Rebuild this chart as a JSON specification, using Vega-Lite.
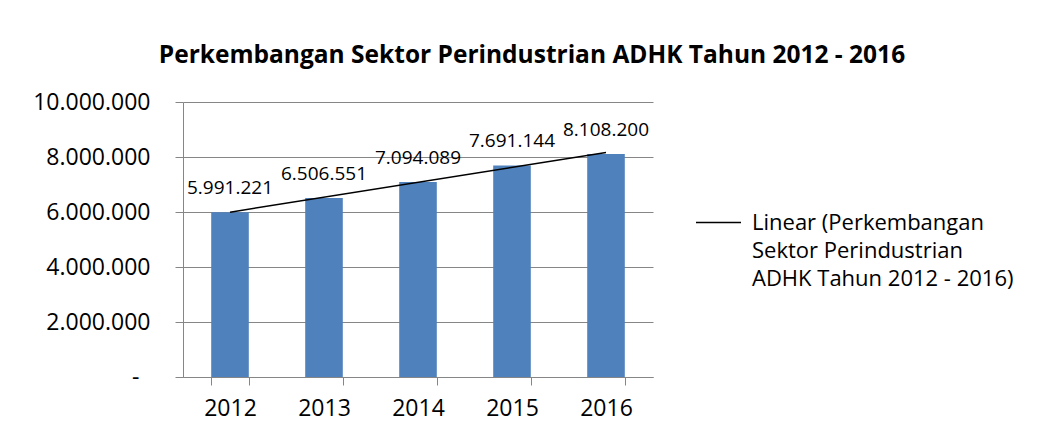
{
  "$schema": "https://vega.github.io/schema/vega-lite/v6.json",
  "width": 470,
  "height": 275,
  "autosize": {"type": "none"},
  "padding": {"left": 183, "top": 102, "right": 392, "bottom": 58},
  "background": "white",
  "config": {
    "font": "Open Sans",
    "view": {"stroke": null},
    "locale": {"number": {"decimal": ",", "thousands": ".", "grouping": [3], "currency": ["Rp", ""]}},
    "axis": {"labelFont": "Open Sans", "labelColor": "#000000"}
  },
  "title": {
    "text": "Perkembangan Sektor Perindustrian ADHK Tahun 2012 - 2016",
    "font": "Open Sans",
    "fontSize": 24.5,
    "fontWeight": "bold",
    "color": "#000000",
    "anchor": "middle",
    "dx": 114,
    "baseline": "alphabetic",
    "offset": 4
  },
  "data": {
    "values": [
      {"year": 2012, "value": 5991221},
      {"year": 2013, "value": 6506551},
      {"year": 2014, "value": 7094089},
      {"year": 2015, "value": 7691144},
      {"year": 2016, "value": 8108200}
    ]
  },
  "encoding": {
    "x": {
      "field": "year",
      "type": "ordinal",
      "scale": {"paddingInner": 0.6, "paddingOuter": 0.3},
      "axis": {
        "title": null,
        "labelAngle": 0,
        "labelFontSize": 23,
        "labelPadding": 12,
        "tickBand": "extent",
        "tickSize": 8,
        "tickColor": "#868686",
        "domainColor": "#868686",
        "grid": false
      }
    },
    "y": {
      "field": "value",
      "type": "quantitative",
      "scale": {"domain": [0, 10000000], "nice": false},
      "axis": {
        "title": null,
        "values": [0, 2000000, 4000000, 6000000, 8000000, 10000000],
        "labelExpr": "datum.value === 0 ? '-' : format(datum.value, ',')",
        "labelFontSize": 23,
        "labelPadding": {"condition": {"test": "datum.value === 0", "value": 36}, "value": 25},
        "tickSize": 8,
        "tickColor": "#868686",
        "domainColor": "#868686",
        "grid": true,
        "gridColor": "#868686",
        "gridWidth": 1
      }
    }
  },
  "layer": [
    {
      "mark": {"type": "bar", "color": "#4F81BD"}
    },
    {
      "mark": {"type": "text", "baseline": "alphabetic", "dy": -18, "fontSize": 19, "font": "Open Sans", "color": "#000000"},
      "encoding": {"text": {"field": "value", "type": "quantitative", "format": ","}}
    },
    {
      "transform": [{"regression": "value", "on": "year"}],
      "mark": {"type": "line", "strokeWidth": 1.5},
      "encoding": {
        "stroke": {
          "datum": "Linear (Perkembangan|Sektor Perindustrian|ADHK Tahun 2012 - 2016)",
          "type": "nominal",
          "scale": {"range": ["#000000"]},
          "legend": {
            "title": null,
            "orient": "none",
            "legendX": 512,
            "legendY": 97,
            "padding": 0,
            "symbolType": "stroke",
            "symbolSize": 2025,
            "symbolStrokeWidth": 1.5,
            "labelFont": "Open Sans",
            "labelFontSize": 22,
            "labelColor": "#000000",
            "labelLimit": 400,
            "labelOffset": 10,
            "labelExpr": "split(datum.label, '|')",
            "encode": {"labels": {"update": {"lineHeight": {"value": 28}}}}
          }
        }
      }
    }
  ]
}
